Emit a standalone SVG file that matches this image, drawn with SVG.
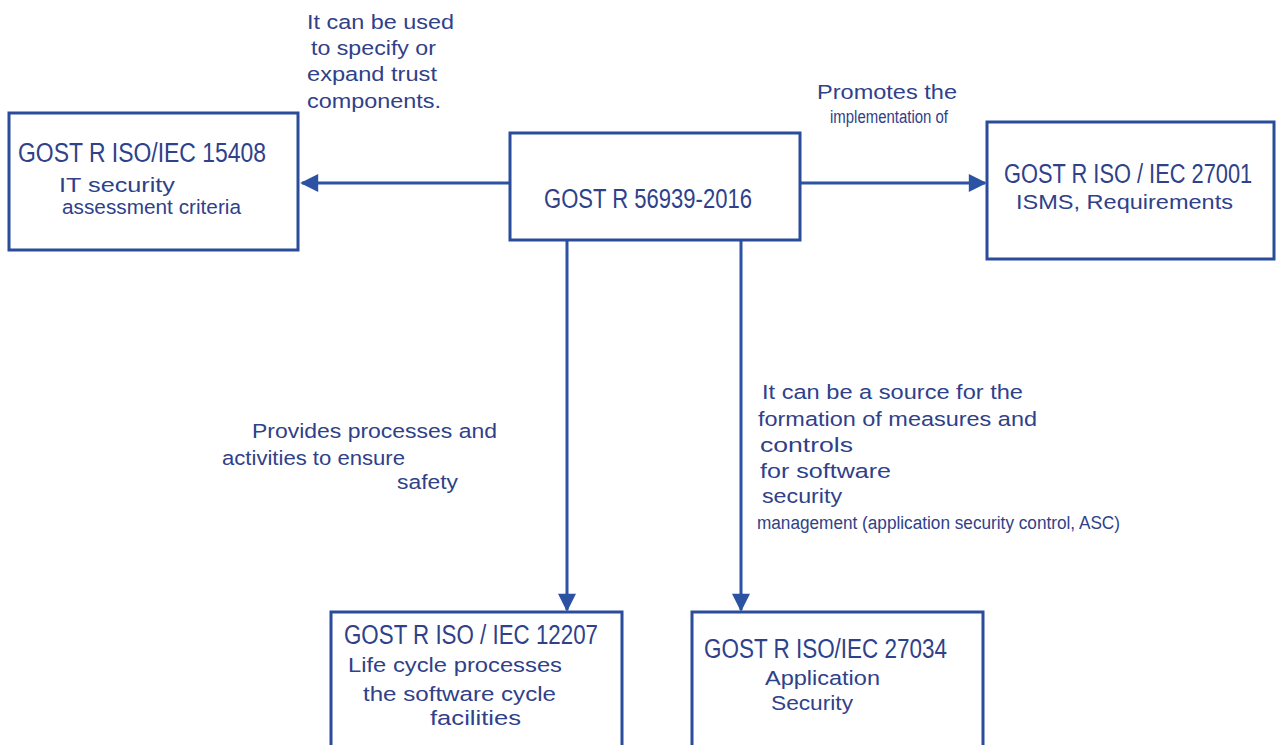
<svg xmlns="http://www.w3.org/2000/svg" width="1276" height="745" viewBox="0 0 1276 745">
  <defs>
    <marker id="arrow" viewBox="0 0 10 10" refX="9" refY="5" markerWidth="6.5" markerHeight="6" orient="auto" markerUnits="strokeWidth">
      <path d="M0,0 L10,5 L0,10 z" fill="#2b52a3"/>
    </marker>
  </defs>
  <style>
    .box { fill: #ffffff; stroke: #2b4c9b; stroke-width: 3; }
    .edge { fill: none; stroke: #2b52a3; stroke-width: 3; marker-end: url(#arrow); }
    text { fill: #2f4189; font-family: "Liberation Sans", Arial, sans-serif; }
    .title { font-family: "Liberation Sans Narrow", "Liberation Sans", Arial, sans-serif; font-size: 27px; }
    .body { font-size: 20.5px; }
    .narrow { font-family: "Liberation Sans Narrow", "Liberation Sans", Arial, sans-serif; font-size: 18px; }
  </style>
  <rect width="1276" height="745" fill="#ffffff"/>

  <!-- connectors -->
  <g id="connectors">
    <line class="edge" x1="510" y1="183" x2="302" y2="183"/>
    <line class="edge" x1="800" y1="183" x2="985" y2="183"/>
    <line class="edge" x1="567" y1="240" x2="567" y2="610"/>
    <line class="edge" x1="741" y1="240" x2="741" y2="610"/>
  </g>

  <!-- edge labels -->
  <g id="label-left">
    <text class="body" x="307" y="29" textLength="147" lengthAdjust="spacingAndGlyphs">It can be used</text>
    <text class="body" x="311" y="55" textLength="125" lengthAdjust="spacingAndGlyphs">to specify or</text>
    <text class="body" x="307" y="81" textLength="130" lengthAdjust="spacingAndGlyphs">expand trust</text>
    <text class="body" x="307" y="108" textLength="134" lengthAdjust="spacingAndGlyphs">components.</text>
  </g>
  <g id="label-right">
    <text class="body" x="817" y="99" font-size="21" textLength="140" lengthAdjust="spacingAndGlyphs">Promotes the</text>
    <text class="narrow" x="830" y="123" font-size="16" textLength="118" lengthAdjust="spacingAndGlyphs">implementation of</text>
  </g>
  <g id="label-down-left">
    <text class="body" x="252" y="438" textLength="245" lengthAdjust="spacingAndGlyphs">Provides processes and</text>
    <text class="body" x="222" y="465" textLength="183" lengthAdjust="spacingAndGlyphs">activities to ensure</text>
    <text class="body" x="397" y="489" textLength="61" lengthAdjust="spacingAndGlyphs">safety</text>
  </g>
  <g id="label-down-right">
    <text class="body" x="762" y="399" textLength="261" lengthAdjust="spacingAndGlyphs">It can be a source for the</text>
    <text class="body" x="758" y="426" textLength="279" lengthAdjust="spacingAndGlyphs">formation of measures and</text>
    <text class="body" x="760" y="452" textLength="93" lengthAdjust="spacingAndGlyphs">controls</text>
    <text class="body" x="760" y="478" textLength="131" lengthAdjust="spacingAndGlyphs">for software</text>
    <text class="body" x="762" y="503" textLength="80" lengthAdjust="spacingAndGlyphs">security</text>
    <text class="narrow" x="757" y="529" textLength="363" lengthAdjust="spacingAndGlyphs">management (application security control, ASC)</text>
  </g>

  <!-- nodes -->
  <g id="node-15408">
    <rect class="box" x="9" y="113" width="289" height="137"/>
    <text class="title" x="18" y="162" font-size="26" textLength="248" lengthAdjust="spacingAndGlyphs">GOST R ISO/IEC 15408</text>
    <text class="body" x="59" y="192" font-size="21.5" textLength="116" lengthAdjust="spacingAndGlyphs">IT security</text>
    <text class="body" x="62" y="214" font-size="21" textLength="179" lengthAdjust="spacingAndGlyphs">assessment criteria</text>
  </g>
  <g id="node-56939">
    <rect class="box" x="510" y="133" width="290" height="107"/>
    <text class="title" x="544" y="208" font-size="30" textLength="208" lengthAdjust="spacingAndGlyphs">GOST R 56939-2016</text>
  </g>
  <g id="node-27001">
    <rect class="box" x="987" y="122" width="287" height="137"/>
    <!-- horizontally condensed title, scaled to sit inside the box -->
    <text class="title" transform="translate(1004 183) scale(0.806 1)" x="0" y="0" textLength="308" lengthAdjust="spacingAndGlyphs">GOST R ISO / IEC 27001</text>
    <text class="body" x="1016" y="209" font-size="22" textLength="217" lengthAdjust="spacingAndGlyphs">ISMS, Requirements</text>
  </g>
  <g id="node-12207">
    <rect class="box" x="331" y="612" width="291" height="140"/>
    <text class="title" x="344" y="644" textLength="254" lengthAdjust="spacingAndGlyphs">GOST R ISO / IEC 12207</text>
    <text class="body" x="348" y="672" textLength="214" lengthAdjust="spacingAndGlyphs">Life cycle processes</text>
    <text class="body" x="363" y="701" textLength="193" lengthAdjust="spacingAndGlyphs">the software cycle</text>
    <text class="body" x="430" y="725" textLength="91" lengthAdjust="spacingAndGlyphs">facilities</text>
  </g>
  <g id="node-27034">
    <rect class="box" x="692" y="612" width="291" height="140"/>
    <text class="title" x="704" y="658" textLength="243" lengthAdjust="spacingAndGlyphs">GOST R ISO/IEC 27034</text>
    <text class="body" x="765" y="685" textLength="115" lengthAdjust="spacingAndGlyphs">Application</text>
    <text class="body" x="771" y="710" textLength="82" lengthAdjust="spacingAndGlyphs">Security</text>
  </g>
</svg>
